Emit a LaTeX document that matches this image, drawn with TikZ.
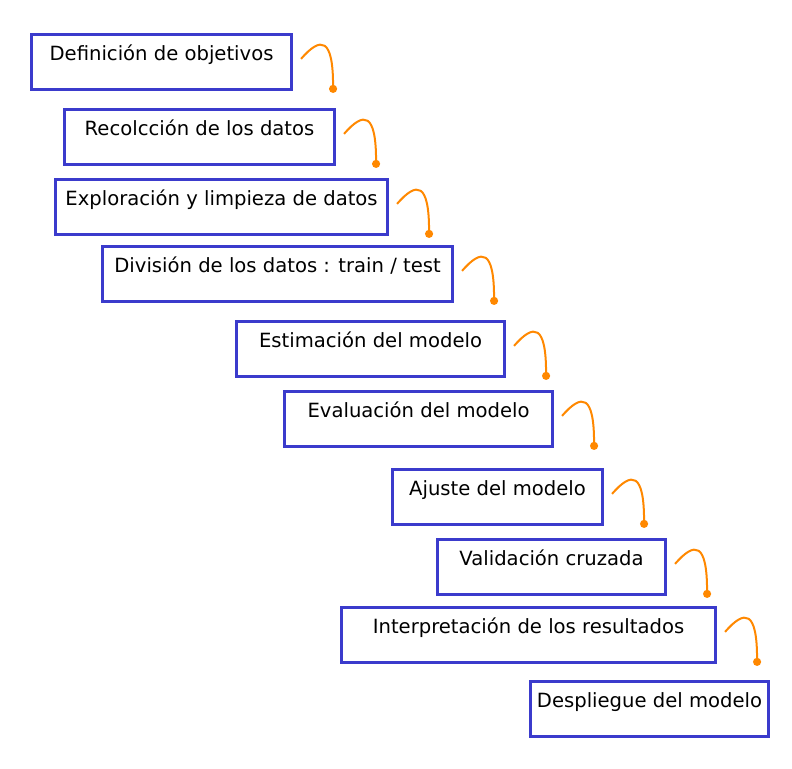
\documentclass[tikz,border=0pt]{standalone}
\usepackage{fontspec}
\setmainfont{DejaVu Sans}
\usetikzlibrary{arrows.meta}
\definecolor{stepblue}{RGB}{59,59,204}
\definecolor{hookorange}{RGB}{255,136,0}
\tikzset{
  stage/.style={draw=stepblue,line width=2.3pt,anchor=north west,inner sep=0pt,
    text height=19.5pt,text depth=21.5pt,font=\fontsize{14.7}{18}\selectfont},
  hook/.style={hookorange,line width=1.5pt,-{Circle[length=6pt]}}
}
\begin{document}
\begin{tikzpicture}[x=0.75pt,y=-0.75pt]
\useasboundingbox (0,0) rectangle (792,768);
\node[stage,minimum width=195pt]   (b1)  at (30,33)  {Definición de objetivos};
\node[stage,minimum width=202.5pt] (b2)  at (63,108) {Recolcción de los datos};
\node[stage,minimum width=249pt]   (b3)  at (54,178) {Exploración y limpieza de datos};
\node[stage,minimum width=262.5pt] (b4)  at (101,245) {División de los datos : train / test};
\node[stage,minimum width=201pt]   (b5)  at (235,320) {Estimación del modelo};
\node[stage,minimum width=201pt]   (b6)  at (283,390) {Evaluación del modelo};
\node[stage,minimum width=157.5pt] (b7)  at (391,468) {Ajuste del modelo};
\node[stage,minimum width=171pt]   (b8)  at (436,538) {Validación cruzada};
\node[stage,minimum width=280.5pt] (b9)  at (340,606) {Interpretación de los resultados};
\node[stage,minimum width=178.5pt] (b10) at (529,680) {Despliegue del modelo};
% hooks between the stages
\foreach \i in {1,...,9} {
  \coordinate (e\i) at ([shift={(40,31)}]b\i.east);
  \draw[hook] ([shift={(8,-3)}]b\i.east)
    .. controls ([shift={(28,-26)}]b\i.east) and ([shift={(40,-24)}]b\i.east) .. (e\i);
}
\end{tikzpicture}
\end{document}
